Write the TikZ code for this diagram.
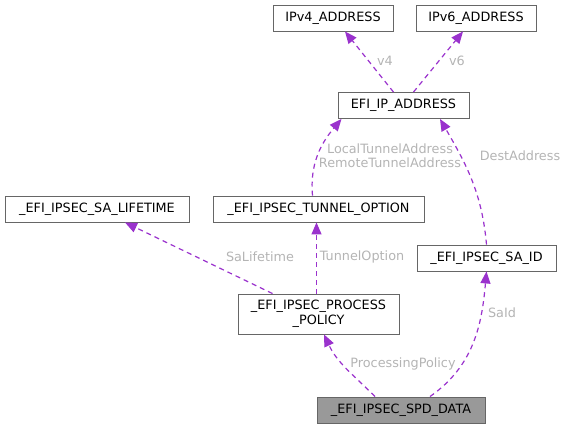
\documentclass[tikz,border=0pt]{standalone}
\usepackage{fontspec}
\setmainfont{DejaVu Sans}
\usetikzlibrary{arrows.meta}
\definecolor{edgecol}{HTML}{9A32CD}
\definecolor{lblcol}{HTML}{B4B4B4}
\definecolor{boxcol}{HTML}{666666}
\definecolor{mainfill}{HTML}{999999}
\begin{document}
\begin{tikzpicture}[x=1pt,y=1pt,
    box/.style={draw=boxcol,line width=0.9pt,minimum height=26pt,inner sep=0pt,
      font=\fontsize{12.8}{14.5}\selectfont,align=center},
    lbl/.style={text=lblcol,inner sep=0pt,font=\fontsize{12.8}{14.5}\selectfont,align=center},
    rel/.style={draw=edgecol,line width=1.2pt,dash pattern=on 5pt off 4pt,
      -{Triangle[length=12pt,width=10pt,fill=edgecol]}}]
  \useasboundingbox (0,0) rectangle (568,428);
      \node[box,minimum width=120pt] (ipv4) at (333, 410){IPv4\_ADDRESS};
      \node[box,minimum width=120pt] (ipv6) at (476, 410){IPv6\_ADDRESS};
      \node[box,minimum width=131pt] (ipaddr) at (403.5, 322.5){EFI\_IP\_ADDRESS};
      \node[box,minimum width=184pt] (lifetime) at (97, 219){\_EFI\_IPSEC\_SA\_LIFETIME};
      \node[box,minimum width=211pt] (tunnel) at (318.5, 219){\_EFI\_IPSEC\_TUNNEL\_OPTION};
      \node[box,minimum width=139pt] (said) at (486.5, 170){\_EFI\_IPSEC\_SA\_ID};
      \node[box,minimum width=161pt,minimum height=40pt] (policy) at (318.5, 114){\_EFI\_IPSEC\_PROCESS\\\_POLICY};
      \node[box,minimum width=168pt,fill=mainfill] (spd) at (401, 18){\_EFI\_IPSEC\_SPD\_DATA};

      \draw[rel] ([xshift=-26pt]spd.north) to[out=135,in=-65] ([xshift=5.5pt]policy.south);
      \draw[rel] ([xshift=29pt]spd.north) to[out=35,in=-95] (said.south);
      \draw[rel] ([xshift=-46pt]policy.north) to ([xshift=28pt]lifetime.south);
      \draw[rel] ([xshift=-2pt]policy.north) to ([xshift=-2pt]tunnel.south);
      \draw[rel] ([xshift=-6pt]tunnel.north) to[out=95,in=-130] ([xshift=-62pt]ipaddr.south);
      \draw[rel] (said.north) to[out=95,in=-60] ([xshift=36.5pt]ipaddr.south);
      \draw[rel] ([xshift=-10pt]ipaddr.north) to ([xshift=12pt]ipv4.south);
      \draw[rel] ([xshift=10pt]ipaddr.north) to ([xshift=-13pt]ipv6.south);

      \node[lbl] (lpolicy) at (403, 64){ProcessingPolicy};
      \node[lbl] (lsaid) at (502, 115){SaId};
      \node[lbl] (llife) at (260, 171){SaLifetime};
      \node[lbl] (ltunnel) at (362, 171){TunnelOption};
      \node[lbl] (ltaddr) at (390, 272.5){LocalTunnelAddress\\RemoteTunnelAddress};
      \node[lbl] (ldest) at (520, 272){DestAddress};
      \node[lbl] (lv4) at (385, 367){v4};
      \node[lbl] (lv6) at (457, 367){v6};
    \end{tikzpicture}
\end{document}
